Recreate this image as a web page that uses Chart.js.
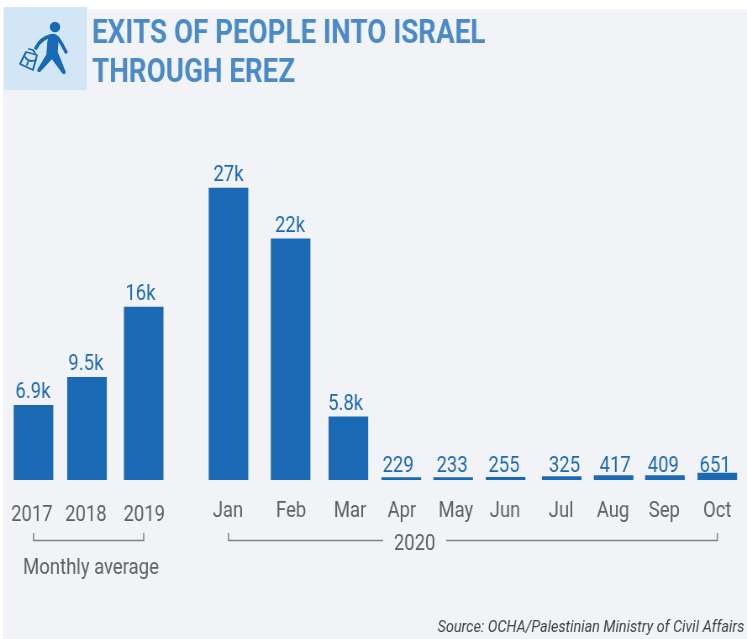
<!DOCTYPE html>
<html>
<head>
<meta charset="utf-8">
<script src="https://cdn.jsdelivr.net/npm/chart.js@4"></script>
<style>
html,body{margin:0;padding:0;background:#fff;overflow:hidden}
#page{position:relative;width:747px;height:639px;overflow:hidden}
#bg{position:absolute;left:3px;top:9px;right:0;bottom:0;background:#f1f3f6}
#iconBox{position:absolute;left:4px;top:7px;width:83px;height:83px;background:#d3e6f6}
#icon{position:absolute;left:4px;top:7px}
#wrap{position:absolute;left:0;top:0;transform-origin:0 0;}
</style>
</head>
<body>
<div id="page">
<div id="bg"></div>
<div id="iconBox"></div>
<svg id="icon" width="83" height="83" viewBox="0 0 83 83">
  <g transform="translate(-4 -7)" fill="none" stroke="#1a69b4" stroke-linecap="round" stroke-linejoin="round">
    <circle cx="55" cy="27" r="5.2" fill="#1a69b4" stroke="none"/>
    <path d="M50 35 Q56 33 58 38 L57 52 L65 72 Q65 74 63 73 L52 58 L40 71 Q38 72 38 70 L47 55 L48 42 Z" fill="#1a69b4" stroke-width="1.5"/>
    <path d="M51 36 Q41 38 36 48" stroke-width="3.6"/>
    <path d="M58 38 Q62 44 66 52" stroke-width="3.2"/>
    <path d="M26 52 L37 55 L33 70 L20 64 Z" stroke-width="1.8"/>
    <path d="M25 57 Q29 63 36 60 M29 49 L33 50 L35 53 M28 62 L27 65" stroke-width="1.8"/>
  </g>
</svg>
<div id="wrap"><canvas id="c"></canvas></div>
</div>
<script>
const categories = ["2017","2018","2019","Jan","Feb","Mar","Apr","May","Jun","Jul","Aug","Sep","Oct"];
const values = [6900,9500,16000,27000,22300,5840,229,233,255,325,417,409,651];
const valueLabels = ["6.9k","9.5k","16k","27k","22k","5.8k","229","233","255","325","417","409","651"];
const slots = [0,0.99,2.04,3.61,4.76,5.83,6.81,7.77,8.74,9.78,10.74,11.69,12.66];
const tickSlots = [-0.03,0.97,2.05,3.60,4.77,5.86,6.82,7.82,8.73,9.77,10.73,11.68,12.66];
const labelSlots = [-0.01,0.97,1.98,3.61,4.75,5.78,6.75,7.75,8.71,9.83,10.77,11.66,12.62];
const titleLines = ["EXITS OF PEOPLE INTO ISRAEL","THROUGH EREZ"];
const sourceText = "Source: OCHA/Palestinian Ministry of Civil Affairs";
const groupAverage = "Monthly average";
const groupYear = "2020";

const squeeze = 0.84;
const W = Math.round(747 / squeeze), H = 639;
const FONT = "Roboto, sans-serif";
const BLUE = "#1a69b4", GREY = "#5f6062";
document.getElementById('wrap').style.transform = "scaleX(" + (747 / W) + ")";
const canvas = document.getElementById('c');
canvas.width = W; canvas.height = H;

const annotate = {
  id: 'annotate',
  afterDatasetsDraw(chart) {
    const {ctx, scales: {x, y}} = chart;
    const meta = chart.getDatasetMeta(0);
    ctx.save();
    // value labels
    ctx.fillStyle = BLUE;
    ctx.font = "22px " + FONT;
    ctx.textAlign = "center";
    ctx.textBaseline = "alphabetic";
    meta.data.forEach((bar, i) => {
      const by = values[i] < 1000 ? y.getPixelForValue(0) - 8 : bar.y - 7;
      ctx.fillText(valueLabels[i], x.getPixelForValue(labelSlots[i]), by);
    });
    // title
    ctx.fillStyle = "#4a8ac8";
    ctx.font = "bold 33px " + FONT;
    ctx.textAlign = "left";
    ctx.fillText(titleLines[0], 92 / squeeze, 42.5);
    ctx.fillText(titleLines[1], 92 / squeeze, 82);
    // source
    ctx.fillStyle = "#3f4042";
    ctx.font = "italic 17.1px " + FONT;
    ctx.textAlign = "right";
    ctx.fillText(sourceText, 744 / squeeze, 632);
    // brackets
    ctx.strokeStyle = "#808285";
    ctx.lineWidth = 1.5;
    const yTop = 533, yBar = 540.5;
    const a0 = x.getPixelForValue(slots[0]), a1 = x.getPixelForValue(slots[2]);
    ctx.beginPath();
    ctx.moveTo(a0, yTop); ctx.lineTo(a0, yBar); ctx.lineTo(a1, yBar); ctx.lineTo(a1, yTop);
    ctx.stroke();
    const b0 = x.getPixelForValue(slots[3]), b1 = x.getPixelForValue(slots[12]);
    const gapL = 383 / squeeze, gapR = 446 / squeeze;
    ctx.beginPath();
    ctx.moveTo(b0, yTop); ctx.lineTo(b0, yBar); ctx.lineTo(gapL, yBar);
    ctx.moveTo(gapR, yBar); ctx.lineTo(b1, yBar); ctx.lineTo(b1, yTop);
    ctx.stroke();
    // group labels
    ctx.fillStyle = GREY;
    ctx.font = "22px " + FONT;
    ctx.textAlign = "center";
    ctx.fillText(groupAverage, 91 / squeeze, 573.5);
    ctx.fillText(groupYear, 414.5 / squeeze, 550);
    ctx.restore();
  }
};

new Chart(canvas, {
  type: 'bar',
  data: {
    datasets: [{
      data: slots.map((s, i) => ({x: s, y: values[i]})),
      backgroundColor: BLUE,
      borderWidth: 0,
      barThickness: 39 / squeeze
    }]
  },
  plugins: [annotate],
  options: {
    responsive: false,
    animation: false,
    devicePixelRatio: 1,
    layout: {padding: {top: 110, left: 0, right: 0, bottom: 0}},
    plugins: {legend: {display: false}, tooltip: {enabled: false}, title: {display: false}},
    scales: {
      x: {
        type: 'linear',
        offset: false,
        min: -0.62,
        max: 13.21,
        grid: {display: false, drawTicks: false},
        border: {display: false},
        afterBuildTicks(scale) { scale.ticks = tickSlots.map(v => ({value: v})); },
        afterFit(scale) { scale.height = 159; scale.paddingLeft = 0; scale.paddingRight = 0; },
        ticks: {
          autoSkip: false,
          maxRotation: 0,
          minRotation: 0,
          padding: 18,
          color: GREY,
          font: ctx => ({family: FONT, size: 22, lineHeight: ctx.index < 3 ? 1.56 : 1.2}),
          callback: (v, i) => categories[i]
        }
      },
      y: {
        display: false,
        min: 0,
        max: 34212,
        grid: {display: false}
      }
    }
  }
});
</script>
</body>
</html>
